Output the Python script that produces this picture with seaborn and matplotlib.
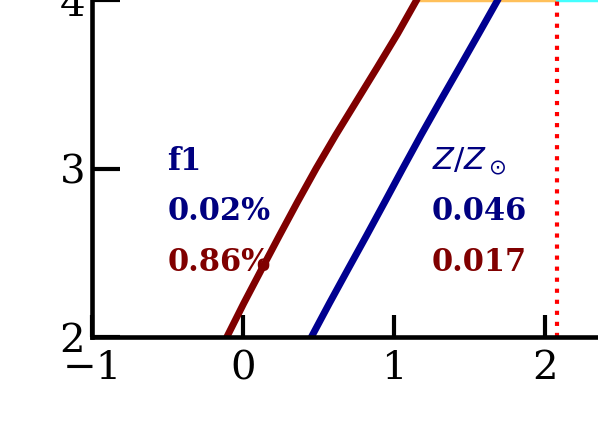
import numpy as np
import pandas as pd
import matplotlib
matplotlib.use('Agg')
import matplotlib.pyplot as plt
import seaborn as sns

# =====================
# DATA
# =====================
track_y = [2.0, 2.2, 2.4, 2.6, 2.8, 3.0, 3.2, 3.4, 3.6, 3.8, 4.0, 4.2]
track_red_x = [-0.107, 0.005, 0.122, 0.240, 0.360, 0.484, 0.615, 0.752,
               0.889, 1.024, 1.150, 1.27]
track_blue_x = [0.453, 0.572, 0.694, 0.817, 0.938, 1.058, 1.180, 1.306,
                1.434, 1.561, 1.687, 1.81]

orange_x = [1.16, 2.07]
orange_y = [4.0, 4.0]
cyan_x = [2.08, 2.6]
cyan_y = [4.0, 4.0]
vline_x = 2.08

x_ticks = [-1, 0, 1, 2]
y_ticks = [2, 3, 4]

left_labels = ['f1', '0.02%', '0.86%']
right_labels = [r'$Z/Z_\odot$', '0.046', '0.017']
label_colors = ['navy', 'navy', 'maroon']
label_y = [3.0, 2.7, 2.4]

# =====================
# FIGURE
# =====================
sns.set_style('white')
plt.rcParams['font.family'] = ['DejaVu Serif']
plt.rcParams['mathtext.fontset'] = 'dejavusans'

fig = plt.figure(figsize=(5.98, 4.39), dpi=100)
xlim = (-1, 2.6)
ylim = (2, 4.3)
px_x, px_y = 151, 168.5
ax = fig.add_axes([92 / 598, 101 / 439,
                   (xlim[1] - xlim[0]) * px_x / 598,
                   (ylim[1] - ylim[0]) * px_y / 439])

df_red = pd.DataFrame({'x': track_red_x, 'y': track_y})
df_blue = pd.DataFrame({'x': track_blue_x, 'y': track_y})

sns.lineplot(data=df_red, x='x', y='y', sort=False, estimator=None,
             color='#800000', lw=5, ax=ax)
sns.lineplot(data=df_blue, x='x', y='y', sort=False, estimator=None,
             color='#000090', lw=5, ax=ax)
ax.plot(orange_x, orange_y, color='#FFC05A', lw=2.5, zorder=1)
ax.plot(cyan_x, cyan_y, color='#44FFFF', lw=2.5, zorder=1)
ax.axvline(vline_x, color='red', ls=':', lw=3)

# text labels
for txt, c, yy in zip(left_labels, label_colors, label_y):
    ax.text(-0.5, yy, txt, color=c, fontsize=22, fontweight='bold',
            va='baseline', ha='left')
for txt, c, yy in zip(right_labels, label_colors, label_y):
    ax.text(1.25, yy, txt, color=c, fontsize=22, fontweight='bold',
            va='baseline', ha='left')

# =====================
# STYLE
# =====================
ax.set_xlim(*xlim)
ax.set_ylim(*ylim)
ax.set_xticks(x_ticks)
ax.set_yticks(y_ticks)
ax.set_xlabel('')
ax.set_ylabel('')
for spine in ax.spines.values():
    spine.set_linewidth(3.3)
    spine.set_color('black')
ax.tick_params(axis='x', direction='in', length=16, width=3, pad=9,
               labelsize=29, bottom=True, top=True, colors='black')
ax.tick_params(axis='y', direction='in', length=20, width=3, pad=5,
               labelsize=29, left=True, right=True, colors='black')

plt.savefig('out.png', dpi=100)
